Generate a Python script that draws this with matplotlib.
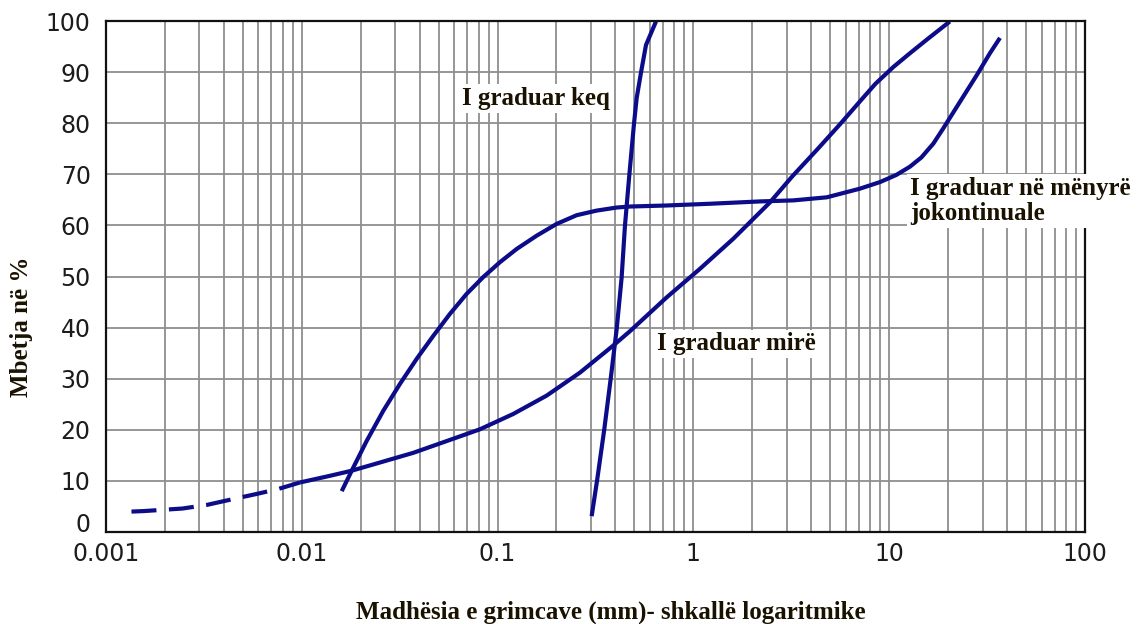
"""Particle size distribution curves (poorly, well and gap graded) on a log scale."""

import matplotlib

matplotlib.use("Agg")

import matplotlib.pyplot as plt
import matplotlib.transforms as mtransforms
from matplotlib.ticker import FixedLocator, LogLocator, NullFormatter


# I graduar keq (poorly graded)
KEQ_X = [0.3024, 0.3229, 0.3508, 0.378, 0.4058, 0.4302, 0.4473, 0.4705,
         0.4972, 0.5133, 0.5401, 0.5728, 0.6442]
KEQ_Y = [3.1, 10.3, 20.1, 29.9, 39.7, 49.8, 59.9, 69.7, 79.8, 84.9, 89.9, 95.3, 99.9]

# I graduar mirë (well graded), dashed part then solid part
MIRE_DASH_X = [0.00135, 0.00156, 0.00246, 0.00327, 0.0044, 0.0058, 0.00755, 0.0098]
MIRE_DASH_Y = [4.0, 4.1, 4.6, 5.3, 6.4, 7.4, 8.4, 9.7]

MIRE_X = [0.0098, 0.01393, 0.01799, 0.02507, 0.03713, 0.05497, 0.08128, 0.1202,
          0.1782, 0.2636, 0.3899, 0.4744, 0.7295, 1.08, 1.6, 2.46, 3.2, 4.3,
          5.61, 7.1, 8.5, 10.5, 12.77, 15.5, 20.4]
MIRE_Y = [9.7, 11.0, 12.0, 13.6, 15.5, 17.8, 20.1, 23.1,
          26.7, 31.2, 36.5, 39.3, 45.9, 51.5, 57.4, 64.5, 69.6, 74.9,
          79.8, 84.3, 87.7, 91.0, 93.7, 96.3, 99.9]

# I graduar në mënyrë jokontinuale (gap graded)
JOKONT_X = [0.0160, 0.01832, 0.02144, 0.02606, 0.03175, 0.03865, 0.04699, 0.05715,
            0.0695, 0.08453, 0.1028, 0.1253, 0.1585, 0.2004, 0.2535, 0.3206,
            0.4055, 0.4744, 0.7295, 1.23, 2.2, 3.24, 4.8, 7.1, 9.0, 10.9, 12.77,
            14.6, 16.8, 18.9, 23.0, 28.0, 32.7, 36.8]
JOKONT_Y = [8.0, 12.6, 17.8, 23.7, 29.0, 33.9, 38.4, 42.7,
            46.6, 49.9, 52.8, 55.4, 58.0, 60.3, 62.0, 62.9,
            63.5, 63.7, 63.9, 64.25, 64.7, 64.9, 65.5, 67.2, 68.5, 69.9, 71.5,
            73.3, 76.0, 79.0, 84.2, 89.4, 93.7, 96.7]

X_TICKS = [0.001, 0.01, 0.1, 1, 10, 100]
X_TICK_LABELS = ["0.001", "0.01", "0.1", "1", "10", "100"]
Y_TICKS = [0, 10, 20, 30, 40, 50, 60, 70, 80, 90, 100]

LINE_COLOR = "#0c0c8a"
TEXT_COLOR = "#1a1200"
GRID_COLOR = "#8f8f8f"
SERIF = ["Liberation Serif", "DejaVu Serif"]


def render(output_path: str) -> str:
    """Draw the grading chart and save it."""
    fig = plt.figure(figsize=(11.38, 6.24), dpi=100)
    ax = fig.add_axes([0.0931, 0.1474, 0.8603, 0.8189])

    ax.set_xscale("log")
    ax.set_xlim(0.001, 100)
    ax.set_ylim(0, 100)

    ax.plot(MIRE_DASH_X, MIRE_DASH_Y, color=LINE_COLOR, linewidth=3.0,
            linestyle=(0, (6, 3)), dash_capstyle="butt")
    ax.plot(MIRE_X, MIRE_Y, color=LINE_COLOR, linewidth=3.0,
            solid_capstyle="butt", solid_joinstyle="round")
    ax.plot(KEQ_X, KEQ_Y, color=LINE_COLOR, linewidth=3.0,
            solid_capstyle="butt", solid_joinstyle="round")
    ax.plot(JOKONT_X, JOKONT_Y, color=LINE_COLOR, linewidth=3.0,
            solid_capstyle="butt", solid_joinstyle="round")

    ax.xaxis.set_major_locator(FixedLocator(X_TICKS))
    ax.set_xticklabels(X_TICK_LABELS)
    ax.xaxis.set_minor_locator(LogLocator(base=10, subs=range(2, 10), numticks=20))
    ax.xaxis.set_minor_formatter(NullFormatter())
    ax.set_yticks(Y_TICKS)

    ax.grid(which="both", axis="x", color=GRID_COLOR, linewidth=1.3)
    ax.grid(which="major", axis="y", color=GRID_COLOR, linewidth=1.3)
    ax.set_axisbelow(True)

    ax.tick_params(which="both", length=0)
    ax.tick_params(axis="x", pad=7, labelsize=17, labelcolor="#1c1c1c")
    ax.tick_params(axis="y", pad=11, labelsize=17, labelcolor="#1c1c1c")

    # the "0" label sits a little above the bottom line
    zero_lbl = ax.get_yticklabels()[0]
    zero_lbl.set_transform(zero_lbl.get_transform()
                           + mtransforms.ScaledTranslation(0, 7 / 72, fig.dpi_scale_trans))

    for side in ["left", "bottom", "right", "top"]:
        ax.spines[side].set_color("#111111")
        ax.spines[side].set_linewidth(1.6)

    box = dict(facecolor="white", edgecolor="none", pad=2)
    ax.text(0.0658, 84.8, "I graduar keq", family=SERIF, fontweight="bold",
            fontsize=18, color=TEXT_COLOR, va="center", ha="left", bbox=box)
    ax.text(0.651, 36.8, "I graduar mirë", family=SERIF, fontweight="bold",
            fontsize=18, color=TEXT_COLOR, va="center", ha="left", bbox=box)
    ax.text(12.8, 64.8, "I graduar në mënyrë\njokontinuale", family=SERIF,
            fontweight="bold", fontsize=18, color=TEXT_COLOR, va="center",
            ha="left", linespacing=1.12, bbox=box, clip_on=False)

    fig.text(0.537, 0.009, "Madhësia e grimcave (mm)- shkallë logaritmike",
             family=SERIF, fontweight="bold", fontsize=18, color=TEXT_COLOR,
             ha="center", va="baseline")
    fig.text(0.019, 0.476, "Mbetja në %", family=SERIF, fontweight="bold",
             fontsize=18, color=TEXT_COLOR, rotation=90, ha="center", va="center")

    fig.savefig(output_path, dpi=100)
    plt.close(fig)
    return output_path


def main():
    render("out.png")


if __name__ == "__main__":
    main()
